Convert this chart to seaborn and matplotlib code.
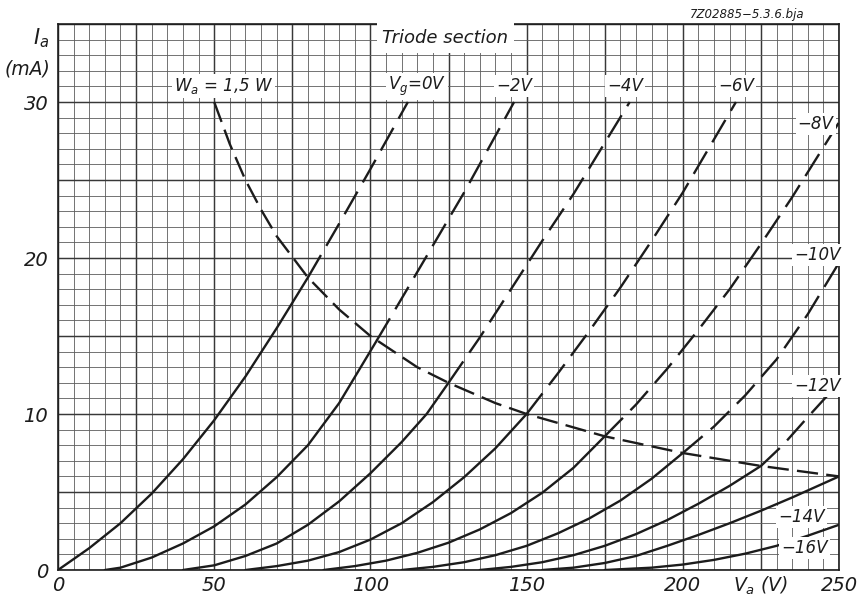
import numpy as np
import pandas as pd
import matplotlib
matplotlib.use("Agg")
import matplotlib.pyplot as plt
from matplotlib.ticker import MultipleLocator, FuncFormatter
import seaborn as sns

# --- values (Va in V, Ia in mA) ---
# solid parts (below the Wa = 1.5 W limit) and dashed continuations
va_0 = [0, 10, 20, 30, 40, 50, 60, 70, 80]
ia_0 = [0, 1.4, 3.0, 4.9, 7.1, 9.6, 12.4, 15.5, 18.75]
va_0d = [80, 90, 100, 112]
ia_0d = [18.75, 22.2, 25.7, 30]

va_2 = [15, 20, 30, 40, 50, 60, 70, 80, 90, 102]
ia_2 = [0, 0.15, 0.8, 1.7, 2.8, 4.2, 5.95, 8.0, 10.7, 14.7]
va_2d = [102, 110, 120, 130, 146]
ia_2d = [14.7, 17.4, 20.8, 24.2, 30]

va_4 = [40, 50, 60, 70, 80, 90, 100, 110, 118, 125]
ia_4 = [0, 0.3, 0.9, 1.7, 2.9, 4.4, 6.2, 8.2, 10.0, 12]
va_4d = [125, 135, 145, 155, 165, 183]
ia_4d = [12, 14.9, 18, 21.1, 24.1, 30]

va_6 = [60, 70, 80, 90, 100, 110, 120, 130, 140, 150]
ia_6 = [0, 0.25, 0.6, 1.15, 1.95, 3.0, 4.35, 5.95, 7.8, 10]
va_6d = [150, 160, 170, 180, 190, 200, 217]
ia_6d = [10, 12.6, 15.3, 18.1, 21.1, 24.2, 30]

va_8 = [85, 95, 105, 115, 125, 135, 145, 155, 165, 175]
ia_8 = [0, 0.25, 0.6, 1.1, 1.75, 2.6, 3.65, 4.95, 6.55, 8.57]
va_8d = [175, 185, 195, 205, 215, 225, 235, 245, 250]
ia_8d = [8.57, 10.6, 12.9, 15.4, 18.0, 20.9, 23.9, 27.1, 28.7]

va_10 = [110, 120, 130, 140, 150, 160, 170, 180, 190, 200]
ia_10 = [0, 0.2, 0.5, 0.95, 1.55, 2.35, 3.3, 4.45, 5.85, 7.5]
va_10d = [200, 210, 220, 230, 240, 250]
ia_10d = [7.5, 9.2, 11.2, 13.5, 16.4, 19.7]

va_12 = [135, 145, 155, 165, 175, 185, 195, 205, 215, 225]
ia_12 = [0, 0.2, 0.5, 0.95, 1.55, 2.3, 3.2, 4.25, 5.4, 6.67]
va_12d = [225, 232, 240, 250]
ia_12d = [6.67, 8.0, 9.8, 12.0]

va_14 = [155, 165, 175, 185, 195, 205, 215, 225, 235, 250]
ia_14 = [0, 0.15, 0.45, 0.9, 1.55, 2.25, 3.0, 3.8, 4.65, 6.0]

va_16 = [175, 190, 200, 210, 220, 230, 240, 250]
ia_16 = [0, 0.15, 0.35, 0.65, 1.05, 1.55, 2.2, 2.9]

# anode dissipation limit Wa = 1.5 W
wa_va = [50, 55, 60, 65, 70, 80, 90, 100, 115, 125, 140, 150, 175, 200, 225, 250]
wa_ia = [30, 27.3, 25, 23.1, 21.4, 18.75, 16.7, 15, 13, 12, 10.7, 10, 8.57, 7.5, 6.67, 6.0]

solid = [(va_0, ia_0), (va_2, ia_2), (va_4, ia_4), (va_6, ia_6), (va_8, ia_8),
         (va_10, ia_10), (va_12, ia_12), (va_14, ia_14), (va_16, ia_16)]
dashed = [(va_0d, ia_0d), (va_2d, ia_2d), (va_4d, ia_4d), (va_6d, ia_6d),
          (va_8d, ia_8d), (va_10d, ia_10d), (va_12d, ia_12d)]

label_text = ["$V_g$=0V", "\u22122V", "\u22124V", "\u22126V", "\u22128V",
              "\u221210V", "\u221212V", "\u221214V", "\u221216V"]
label_x = [115, 146, 181.5, 217, 242.5, 243, 243, 238, 239]
label_y = [31, 31, 31, 31, 28.6, 20.2, 11.8, 3.4, 1.4]

sns.set_theme(style="white")
plt.rcParams["font.family"] = ["DejaVu Sans"]
plt.rcParams["font.style"] = "italic"
plt.rcParams["mathtext.fontset"] = "dejavusans"
plt.rcParams["mathtext.default"] = "it"

ink = "#1c1c1c"
fig = plt.figure(figsize=(8.64, 5.97), dpi=100)
ax = fig.add_axes([0.0671, 0.0452, 0.904, 0.9146])

for xs, ys in solid:
    sns.lineplot(x=xs, y=ys, ax=ax, color=ink, lw=1.7, sort=False,
                 estimator=None, zorder=4)
for xs, ys in dashed:
    sns.lineplot(x=xs, y=ys, ax=ax, color=ink, lw=1.7, sort=False,
                 estimator=None, linestyle=(0, (11, 4.5)), zorder=4)
sns.lineplot(x=wa_va, y=wa_ia, ax=ax, color=ink, lw=1.7, sort=False,
             estimator=None, linestyle=(0, (9, 3.5)), zorder=4)

ax.set_xlim(0, 250)
ax.set_ylim(0, 35)
ax.xaxis.set_major_locator(MultipleLocator(25))
ax.xaxis.set_minor_locator(MultipleLocator(5))
ax.yaxis.set_major_locator(MultipleLocator(5))
ax.yaxis.set_minor_locator(MultipleLocator(1))
ax.xaxis.set_major_formatter(FuncFormatter(lambda v, p: f"{v:.0f}" if round(v) % 50 == 0 else ""))
ax.yaxis.set_major_formatter(FuncFormatter(lambda v, p: f"{v:.0f}" if round(v) % 10 == 0 else ""))
ax.set_axisbelow(True)
ax.grid(which="major", color="#383838", lw=1.05)
ax.grid(which="minor", color="#5c5c5c", lw=0.6)
ax.tick_params(which="both", length=0, labelsize=14, colors=ink)
ax.tick_params(axis="x", pad=4)
ax.tick_params(axis="y", pad=7)
for s in ax.spines.values():
    s.set_color(ink)
    s.set_linewidth(1.2)
ax.set_xlabel("")
ax.set_ylabel("")

box = dict(facecolor="white", edgecolor="none", pad=1.5)
for t, x, y in zip(label_text, label_x, label_y):
    ax.text(x, y, t, fontsize=12, ha="center", va="center", color=ink,
            bbox=box, zorder=5)
ax.text(53, 31, "$W_a$ = 1,5 W", fontsize=12, ha="center", va="center",
        color=ink, bbox=box, zorder=5)
ax.text(124, 34.1, "Triode section", fontsize=13, ha="center", va="center",
        color=ink, bbox=dict(facecolor="white", edgecolor="none", pad=4), zorder=5)

ax.text(-2.8, 34.1, "$I_a$", fontsize=15, ha="right", va="center",
        color=ink, clip_on=False)
ax.text(-2.5, 32.1, "(mA)", fontsize=13.5, ha="right", va="center",
        color=ink, clip_on=False)
ax.text(225, -1.0, "$V_a$ (V)", fontsize=13.5, ha="center", va="center",
        color=ink, clip_on=False)
fig.text(0.865, 0.975, "7Z02885\u22125.3.6.bja", fontsize=8.5, ha="center",
         va="center", color=ink)

fig.savefig("out.png", dpi=100, facecolor="white")
